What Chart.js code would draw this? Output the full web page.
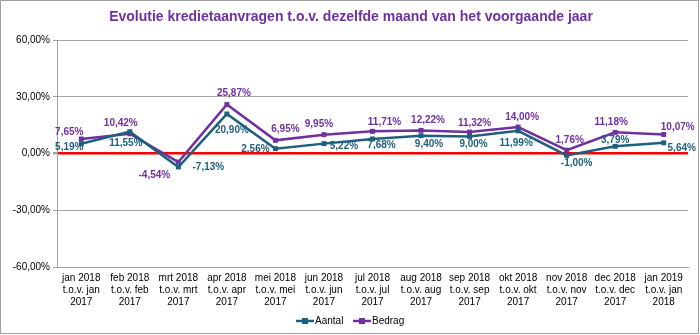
<!DOCTYPE html>
<html><head><meta charset="utf-8">
<script src="https://cdn.jsdelivr.net/npm/chart.js@4.4.0/dist/chart.umd.min.js"></script>
<style>html,body{margin:0;padding:0;background:#fff;}canvas{display:block}</style>
</head><body>
<canvas id="c" width="700" height="335"></canvas>
<script>
const chartTitle = 'Evolutie kredietaanvragen t.o.v. dezelfde maand van het voorgaande jaar';
const categories = [
  ['jan 2018','t.o.v. jan','2017'],
  ['feb 2018','t.o.v. feb','2017'],
  ['mrt 2018','t.o.v. mrt','2017'],
  ['apr 2018','t.o.v. apr','2017'],
  ['mei 2018','t.o.v. mei','2017'],
  ['jun 2018','t.o.v. jun','2017'],
  ['jul 2018','t.o.v. jul','2017'],
  ['aug 2018','t.o.v. aug','2017'],
  ['sep 2018','t.o.v. sep','2017'],
  ['okt 2018','t.o.v. okt','2017'],
  ['nov 2018','t.o.v. nov','2017'],
  ['dec 2018','t.o.v. dec','2017'],
  ['jan 2019','t.o.v. jan','2018']
];
const seriesNames = ['Aantal', 'Bedrag'];
const aantal = [5.19, 11.55, -7.13, 20.90, 2.56, 5.22, 7.68, 9.40, 9.00, 11.99, -1.00, 3.79, 5.64];
const bedrag = [7.65, 10.42, -4.54, 25.87, 6.95, 9.95, 11.71, 12.22, 11.32, 14.00, 1.76, 11.18, 10.07];
const yMin = -60, yMax = 60, yStep = 30;

const colAantal = '#1F5F7E';
const colBedrag = '#7030A0';
const FONT = '"Liberation Sans", Arial, sans-serif';

function pct(v){ return v.toFixed(2).replace('.', ',') + '%'; }

// label offsets (style only)
const labelOffsets = [
  [[-12,4],[-4,12],[30,0],[5,16],[-20,1],[20,3],[9,6],[8,9],[4,8],[-2,12],[10,8],[0,-6],[18,5]],
  [[-12,-7],[-9,-11],[-24,13],[7,-11],[10,-11],[-5,-10],[12,-9],[7,-10],[5,-9],[4,-10],[3,-10],[-4,-10],[14,-7]]
];

const decor = {
  id: 'decor',
  afterDatasetsDraw(chart) {
    const ctx = chart.ctx;
    ctx.save();
    ctx.font = 'bold 10px ' + FONT;
    ctx.textAlign = 'center';
    ctx.textBaseline = 'middle';
    chart.data.datasets.forEach((ds, di) => {
      const meta = chart.getDatasetMeta(di);
      ctx.fillStyle = ds.borderColor;
      meta.data.forEach((pt, i) => {
        const o = labelOffsets[di][i];
        ctx.fillText(pct(ds.data[i]), pt.x + o[0], pt.y + o[1]);
      });
    });
    ctx.restore();
  },
  afterDraw(chart) {
    const ctx = chart.ctx;
    ctx.save();
    // title
    ctx.font = 'bold 14px ' + FONT;
    ctx.fillStyle = colBedrag;
    ctx.textAlign = 'center';
    ctx.textBaseline = 'middle';
    ctx.fillText(chartTitle, 351, 17);
    // legend
    ctx.font = '10px ' + FONT;
    ctx.textAlign = 'left';
    const items = [[296, 0], [353, 1]];
    items.forEach(([x, di]) => {
      const ds = chart.data.datasets[di];
      const y = 321;
      ctx.strokeStyle = ds.borderColor;
      ctx.lineWidth = 2.5;
      ctx.beginPath(); ctx.moveTo(x, y); ctx.lineTo(x + 18, y); ctx.stroke();
      ctx.fillStyle = ds.borderColor;
      ctx.fillRect(x + 6, y - 3, 6, 6);
      ctx.fillStyle = '#000';
      ctx.fillText(ds.label, x + 19, y);
    });
    // outer border
    ctx.strokeStyle = '#A0A0A0';
    ctx.lineWidth = 1;
    ctx.strokeRect(0.5, 0.5, 698, 333);
    ctx.restore();
  }
};

new Chart(document.getElementById('c'), {
  type: 'line',
  data: {
    labels: categories,
    datasets: [
      { label: seriesNames[0], data: aantal, borderColor: colAantal, backgroundColor: colAantal,
        borderWidth: 2.5, pointStyle: 'rect', pointRadius: 3.5, pointBorderWidth: 0, tension: 0 },
      { label: seriesNames[1], data: bedrag, borderColor: colBedrag, backgroundColor: colBedrag,
        borderWidth: 2.5, pointStyle: 'rect', pointRadius: 3.5, pointBorderWidth: 0, tension: 0 }
    ]
  },
  options: {
    responsive: false,
    animation: false,
    events: [],
    layout: { padding: { top: 40, left: 0, right: 12, bottom: 0 } },
    plugins: { legend: { display: false }, title: { display: false }, tooltip: { enabled: false } },
    scales: {
      x: {
        offset: true,
        grid: { display: false, offset: true, drawTicks: false, tickLength: 0 },
        border: { display: true, color: '#A0A0A0', width: 1 },
        ticks: { color: '#000', font: { family: FONT, size: 10, lineHeight: 1.2 }, maxRotation: 0, autoSkip: false, padding: 5 },
        afterFit(s) { s.height = 68; }
      },
      y: {
        min: yMin, max: yMax,
        grid: {
          color: (c) => c.tick && c.tick.value === 0 ? '#FF0000' : '#A6A6A6',
          lineWidth: (c) => c.tick && c.tick.value === 0 ? 2.5 : 1,
          tickLength: 4,
          tickColor: '#A6A6A6'
        },
        border: { display: true, color: '#A0A0A0', width: 1 },
        ticks: { stepSize: yStep, color: '#000', font: { family: FONT, size: 10 }, padding: 3, callback: (v) => pct(v) },
        afterFit(s) { s.width = 57; }
      }
    }
  },
  plugins: [decor]
});
</script>
</body></html>
